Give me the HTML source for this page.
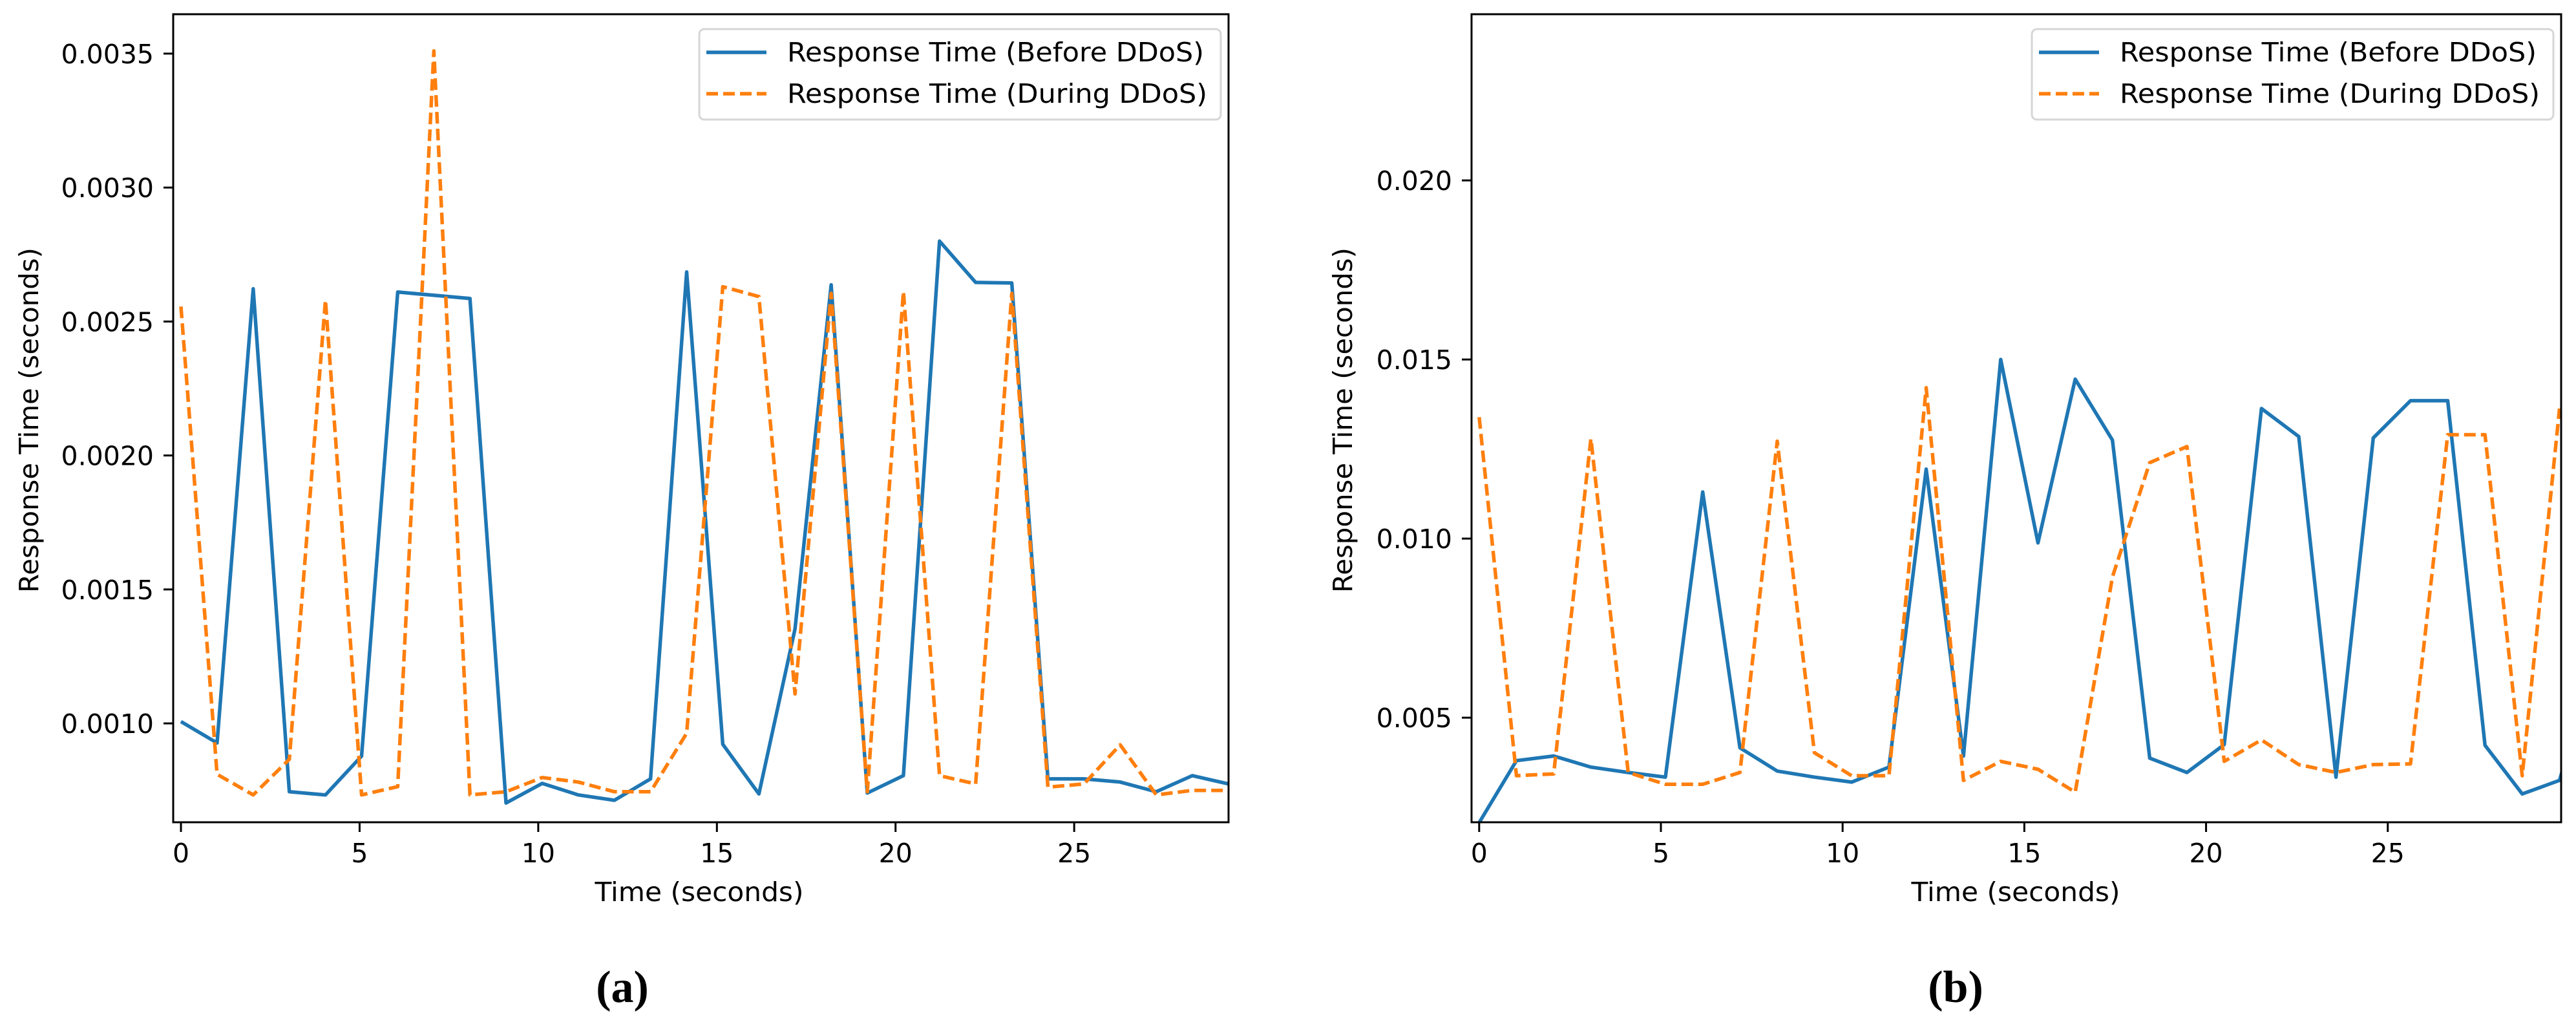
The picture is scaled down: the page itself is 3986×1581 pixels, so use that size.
<!DOCTYPE html>
<html><head><meta charset="utf-8">
<style>html,body{margin:0;padding:0;background:#fff}svg{display:block}</style></head>
<body>
<svg id="fig" width="3986" height="1581" viewBox="0 0 3986 1581" xmlns="http://www.w3.org/2000/svg" font-family="'DejaVu Sans','Liberation Sans',sans-serif">
</svg>
<script>
const timesA = [0,1.011,2.022,3.033,4.044,5.055,6.066,7.077,8.088,9.099,10.11,11.121,12.132,13.143,14.154,15.165,16.176,17.187,18.198,19.209,20.22,21.231,22.242,23.253,24.264,25.275,26.286,27.297,28.308,29.319];
const beforeA = [0.001007,0.000927,0.002622,0.000745,0.000733,0.000878,0.00261,0.002598,0.002586,0.000703,0.000776,0.000733,0.000713,0.000793,0.002685,0.000922,0.000737,0.001353,0.002637,0.00074,0.000805,0.0028,0.002646,0.002644,0.000793,0.000793,0.000781,0.000745,0.000805,0.000774];
const duringA = [0.002556,0.00081,0.000733,0.000866,0.00258,0.000733,0.000764,0.00351,0.000733,0.000745,0.000798,0.000781,0.000745,0.000745,0.000963,0.00263,0.002593,0.00111,0.002605,0.000745,0.002612,0.000805,0.000774,0.002605,0.000762,0.000774,0.00092,0.000733,0.00075,0.00075];
const yTicksA = [0.0010,0.0015,0.0020,0.0025,0.0030,0.0035];
const yLabelsA = ["0.0010","0.0015","0.0020","0.0025","0.0030","0.0035"];

const timesB = [0,1.025,2.05,3.075,4.1,5.125,6.15,7.175,8.2,9.225,10.25,11.275,12.3,13.325,14.35,15.375,16.4,17.425,18.45,19.475,20.5,21.525,22.55,23.575,24.6,25.625,26.65,27.675,28.7,29.725,30.75];
const beforeB = [0.00207,0.0038,0.00393,0.00362,0.00347,0.00334,0.0113,0.00416,0.00351,0.00334,0.0032,0.00362,0.01194,0.00393,0.015,0.00988,0.01445,0.01275,0.00387,0.00347,0.00425,0.01363,0.01285,0.00334,0.01281,0.01385,0.01385,0.00423,0.00287,0.00325,0.0068];
const duringB = [0.01339,0.00338,0.00343,0.01279,0.00347,0.00314,0.00314,0.00347,0.01272,0.00402,0.00338,0.00338,0.01421,0.00325,0.00378,0.00356,0.00292,0.00893,0.01212,0.01257,0.00378,0.00438,0.00369,0.00347,0.00369,0.00371,0.0129,0.0129,0.00338,0.01363];
const yTicksB = [0.005,0.010,0.015,0.020];
const yLabelsB = ["0.005","0.010","0.015","0.020"];

const xTicks = [0,5,10,15,20,25];
const xLabels = ["0","5","10","15","20","25"];

const NS = "http://www.w3.org/2000/svg";
const svg = document.getElementById('fig');
function mk(tag, attrs, parent){const e=document.createElementNS(NS,tag);for(const k in attrs)e.setAttribute(k,attrs[k]);(parent||svg).appendChild(e);return e;}

function panel(cfg){
  const g = mk('g',{});
  
  
  const L=cfg.left,R=cfg.right,T=cfg.top,B=cfg.bottom;
  const sx = v => L + (v-cfg.xmin)/(cfg.xmax-cfg.xmin)*(R-L);
  const sy = v => B - (v-cfg.ymin)/(cfg.ymax-cfg.ymin)*(B-T);
  const clipId = 'clip-'+cfg.id;
  const cp = mk('clipPath',{id:clipId},g);
  mk('rect',{x:L,y:T,width:R-L,height:B-T},cp);
  function line(xs, ys, color, dash, name){
    let d='';
    for(let i=0;i<ys.length;i++){d+=(i?'L':'M')+sx(xs[i]).toFixed(1)+','+sy(ys[i]).toFixed(1);}
    const p = mk('path',{d:d,fill:'none',stroke:color,'stroke-width':5.5,'stroke-linejoin':'round','clip-path':'url(#'+clipId+')'},g);
    if(dash) p.setAttribute('stroke-dasharray',dash);
    
    
  }
  line(cfg.times, cfg.before, '#1f77b4', null, cfg.id+'-before-ddos-line');
  line(cfg.times.slice(0,cfg.during.length), cfg.during, '#ff7f0e', '18,8', cfg.id+'-during-ddos-line');
  const fr = mk('rect',{x:L,y:T,width:R-L,height:B-T,fill:'none',stroke:'#000','stroke-width':3},g);
  
  
  xTicks.forEach((t,i)=>{
    const x=sx(t);
    mk('line',{x1:x,x2:x,y1:B,y2:B+15,stroke:'#000','stroke-width':3},g);
    const tx=mk('text',{x:x,y:B+62,'text-anchor':'middle','font-size':41,fill:'#000'},g);
    tx.textContent=xLabels[i];
    
    
  });
  cfg.yTicks.forEach((t,i)=>{
    const y=sy(t);
    mk('line',{x1:L-15,x2:L,y1:y,y2:y,stroke:'#000','stroke-width':3},g);
    const tx=mk('text',{x:L-30,y:y+15,'text-anchor':'end','font-size':41,fill:'#000'},g);
    tx.textContent=cfg.yLabels[i];
    
    
  });
  const xt=mk('text',{x:cfg.xTitleX,y:1394,'text-anchor':'middle','font-size':41,textLength:323,lengthAdjust:'spacingAndGlyphs'},g);
  xt.textContent='Time (seconds)';
  
  
  const yt=mk('text',{x:0,y:0,'text-anchor':'middle','font-size':41,textLength:534,lengthAdjust:'spacingAndGlyphs',transform:'translate('+(cfg.yTitleX+14)+',650) rotate(-90)'},g);
  yt.textContent='Response Time (seconds)';
  
  
  const lg = mk('g',{},g);
  
  
  const lx=cfg.legendLeft;
  mk('rect',{x:lx,y:45,width:807,height:140,rx:8,fill:'#fff','fill-opacity':0.8,stroke:'#d6d6d6','stroke-width':3},lg);
  mk('line',{x1:lx+11,x2:lx+104,y1:81,y2:81,stroke:'#1f77b4','stroke-width':5.5},lg);
  mk('line',{x1:lx+11,x2:lx+104,y1:145,y2:145,stroke:'#ff7f0e','stroke-width':5.5,'stroke-dasharray':'18,8'},lg);
  const t1=mk('text',{x:lx+136,y:95,'font-size':41,textLength:645,lengthAdjust:'spacingAndGlyphs'},lg);
  t1.textContent='Response Time (Before DDoS)';
  
  
  const t2=mk('text',{x:lx+136,y:159,'font-size':41,textLength:650,lengthAdjust:'spacingAndGlyphs'},lg);
  t2.textContent='Response Time (During DDoS)';
  
  
  const cap=mk('text',{x:cfg.capX,y:1550,'text-anchor':'middle','font-size':70,'font-weight':'bold','font-family':"'Liberation Serif',serif"},g);
  cap.textContent=cfg.caption;
  
  
}

panel({id:'panel-a',left:268,right:1901,top:22,bottom:1272,xmin:-0.217,xmax:29.32,ymin:0.000631,ymax:0.003647,
  times:timesA,before:beforeA,during:duringA,yTicks:yTicksA,yLabels:yLabelsA,xTitleX:1082,yTitleX:45,legendLeft:1082,capX:963,caption:'(a)'});
panel({id:'panel-b',left:2277,right:3963,top:22,bottom:1272,xmin:-0.21,xmax:29.77,ymin:0.00208,ymax:0.02464,
  times:timesB,before:beforeB,during:duringB,yTicks:yTicksB,yLabels:yLabelsB,xTitleX:3119,yTitleX:2078,legendLeft:3144,capX:3026,caption:'(b)'});
</script>
</body></html>
